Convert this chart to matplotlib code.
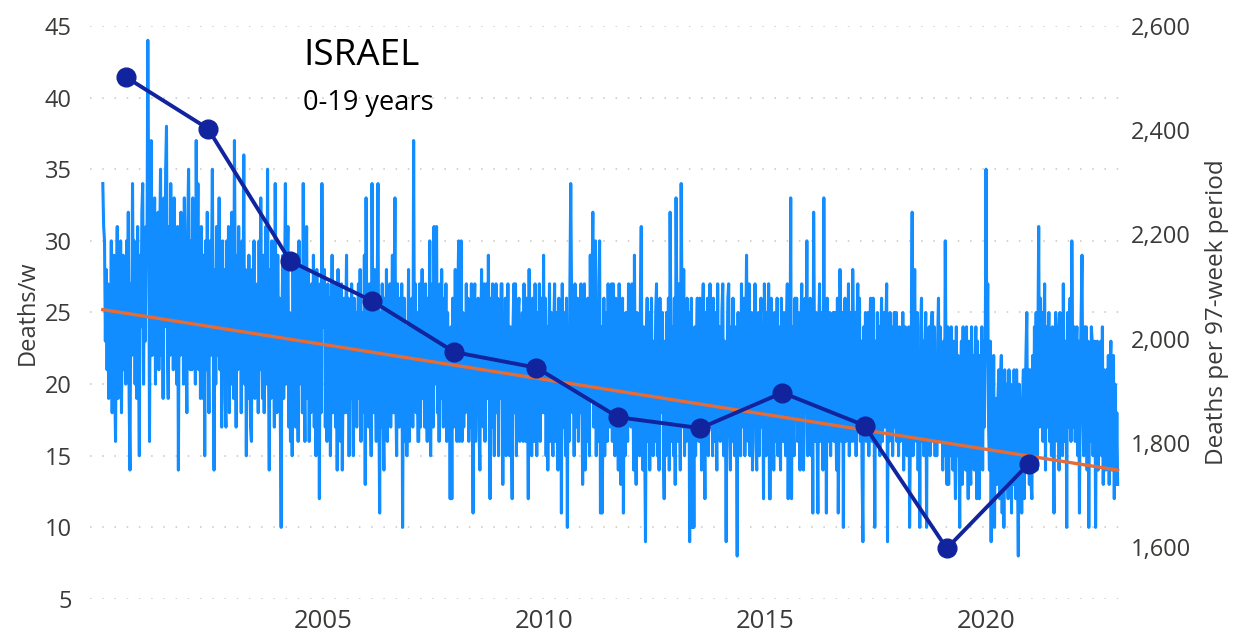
import numpy as np
import matplotlib
matplotlib.use("Agg")
import matplotlib.pyplot as plt
from matplotlib.ticker import FuncFormatter

#----------------------------------------------------------------------
# weekly deaths, age 0-19 (52 values per year)
#----------------------------------------------------------------------
w2000 = [34,31,30,23,28,21,27,19,26,22,30,18,25, 29,20,16,26,31,19,28,22,30,18,25,29,21,
         27,20,30,23,32,19,14,27,22,34,24,30,20, 28,19,31,22,15,29,24,32,34,20,30,23,31]
w2001 = [29,44,33,16,30,37,22,31,24,33,20,30,25, 32,21,30,35,22,28,19,33,24,35,38,23,19,
         31,22,34,25,30,21,33,24,29,20,31,14,28, 22,32,24,30,20,33,26,22,18,31,35,27,21]
w2002 = [30,21,33,24,28,20,37,26,34,21,29,19,31, 25,19,29,15,30,21,32,23,18,30,22,28,35,
         24,14,28,20,31,22,26,33,21,29,17,30,22, 28,19,17,30,23,31,18,27,20,32,24,19,37]
w2003 = [26,17,29,21,31,22,27,18,30,23,36,20,28, 15,27,19,29,23,17,16,28,21,30,19,26,22,
         27,18,30,21,33,23,19,29,18,26,31,20,35, 22,14,28,19,30,21,26,17,34,24,18,29,21]
w2004 = [26,18,10,25,29,19,27,34,20,28,31,17,25, 16,24,15,28,19,26,17,29,21,16,30,20,25,
         28,18,34,22,16,27,31,19,28,16,25,18,27, 20,29,17,26,15,28,21,25,12,27,18,34,24]
w2005 = [24,28,17,25,16,27,19,26,15,23,29,18,24, 27,17,25,14,28,19,24,16,27,14,21,26,18,
         24,29,18,26,15,25,19,27,20,15,26,18,25, 17,24,27,19,28,16,25,18,21,29,13,33,22]
w2006 = [25,17,27,19,15,34,22,18,28,20,16,26,34, 19,11,25,17,27,18,14,26,20,28,16,24,19,
         27,17,23,29,18,25,33,19,15,27,20,17,26, 18,27,10,23,26,16,24,15,20,28,16,25,21]
w2007 = [26,17,37,20,27,18,25,16,16,27,17,23,28, 19,26,17,27,20,16,26,21,30,15,23,27,17,
         31,20,26,31,18,25,16,27,19,28,21,17,26, 20,27,16,25,19,22,12,24,12,26,17,23,28]
w2008 = [23,16,26,30,16,24,30,16,25,17,24,18,27, 19,26,16,24,17,27,19,11,25,27,16,23,18,
         26,17,14,23,28,21,17,27,16,24,27,19,29, 21,12,26,17,27,19,15,24,27,18,26,15,24]
w2009 = [19,27,27,13,24,17,26,15,22,27,18,15,24, 17,12,24,27,18,27,15,23,25,26,16,24,18,
         25,16,27,19,16,26,21,12,28,18,25,15,26, 19,16,27,21,15,25,18,27,16,24,26,18,29]
w2010 = [18,26,15,24,14,23,27,16,25,18,15,24,27, 16,25,19,14,26,18,24,11,27,17,25,19,15,
         26,10,24,16,27,34,26,18,25,15,27,20,17, 26,16,25,18,27,20,13,23,27,14,24,16,26]
w2011 = [21,15,29,19,26,32,17,24,30,15,23,16,27, 30,11,24,11,18,26,15,25,19,16,27,20,17,
         25,27,16,27,20,15,26,18,23,14,27,16,13, 24,26,11,22,15,25,19,16,27,20,26,17,27]
w2012 = [23,14,29,18,13,25,16,24,15,26,31,18,14, 24,16,9,23,26,16,25,14,22,26,19,15,23,
         16,25,27,15,23,14,26,18,24,25,16,12,23, 15,25,18,26,14,32,23,16,24,15,26,13,33]
w2013 = [24,16,27,19,14,34,25,17,28,15,24,16,26, 17,25,9,23,26,10,21,10,24,15,23,26,19,
         16,26,22,14,24,27,18,12,25,16,26,15,23, 27,17,24,15,26,16,25,19,14,27,17,24,16]
w2014 = [18,25,27,15,23,20,9,21,26,27,17,14,24, 16,26,19,15,24,18,8,25,16,23,15,27,20,
         17,26,15,23,29,19,16,27,15,23,25,14,24, 17,27,16,14,23,25,15,24,26,17,21,12,27]
w2015 = [23,15,25,17,27,12,12,26,18,24,14,25,19, 16,26,15,24,18,14,26,19,16,25,18,15,24,
         27,12,23,17,33,12,24,17,15,26,19,26,16, 25,17,14,24,27,19,14,17,26,18,30,15,24]
w2016 = [18,26,15,24,11,32,23,16,25,17,11,24,27, 16,25,19,14,33,17,24,11,26,16,23,25,15,
         24,17,25,16,25,19,14,26,11,18,28,24,16, 25,10,23,26,16,24,18,27,15,25,19,16,28]
w2017 = [23,16,25,15,24,27,17,26,16,23,14,9,24, 17,25,16,24,25,15,23,26,17,16,26,20,10,
         23,16,25,18,24,15,23,26,16,19,25,17,24, 27,9,23,16,25,17,24,15,19,25,17,25,16]
w2018 = [22,15,24,16,23,17,25,14,22,24,18,15,22, 24,10,17,23,32,15,22,28,19,16,25,14,22,
         10,24,26,16,23,15,22,25,10,23,16,24,15, 23,25,25,16,24,15,22,15,23,26,16,24,18]
w2019 = [21,14,23,15,30,20,13,24,13,22,15,24,17, 14,23,16,12,24,15,22,17,10,20,23,13,24,
         15,22,14,24,17,12,23,16,13,24,15,22,14, 21,24,12,23,15,12,22,16,24,14,23,17,22]
w2020 = [35,22,27,17,14,23,9,20,13,22,10,19,17, 13,19,21,12,20,22,11,18,10,21,13,20,15,
         12,21,14,20,11,19,13,21,16,12,21,14,8, 20,13,19,11,19,21,12,18,22,25,15,21,13]
w2021 = [21,13,12,22,15,24,16,25,14,23,31,17,26, 18,25,16,23,27,14,24,17,22,25,16,23,15,
         24,17,11,22,25,24,16,23,14,25,17,24,15, 27,18,16,23,10,25,17,24,26,16,30,22,17]
w2022 = [24,16,22,24,15,23,11,21,25,29,18,15,24, 17,24,14,23,10,22,16,24,23,15,21,23,10,
         20,23,14,22,17,23,15,24,13,21,16,14,21, 15,22,13,21,23,14,20,22,12,20,13,18,13]

# deaths per 97-week period (right axis) and where each point sits
period_year = [2000.52, 2002.38, 2004.24, 2006.10, 2007.96, 2009.82,
               2011.67, 2013.53, 2015.39, 2017.25, 2019.11, 2020.97]
period_deaths = [2502, 2403, 2149, 2072, 1974, 1944, 1849, 1828, 1896, 1833, 1597, 1760]

# linear trend of weekly deaths, first and last week
trend_start = 25.2
trend_end = 14.0

years = [2005, 2010, 2015, 2020]

weekly = (w2000 + w2001 + w2002 + w2003 + w2004 + w2005 + w2006 + w2007 + w2008 +
          w2009 + w2010 + w2011 + w2012 + w2013 + w2014 + w2015 + w2016 + w2017 +
          w2018 + w2019 + w2020 + w2021 + w2022)
x = 2000 + np.arange(len(weekly)) / 52.0

plt.rcParams['font.family'] = ['Open Sans', 'DejaVu Sans']
txt = '#3b3a39'

fig = plt.figure(figsize=(12.5, 6.41), dpi=100)
ax = fig.add_axes([0.072, 0.0655, 0.826, 0.894])

ax.plot(x, weekly, color='#118DFF', lw=2.2, zorder=2)
ax.plot([x[0], x[-1]], [trend_start, trend_end], color='#E66C37', lw=2.4, zorder=3)

ax.set_xlim(1999.71, 2023.09)
ax.set_ylim(5, 45)
ax.set_yticks(range(5, 46, 5))
ax.set_xticks(years)
ax.grid(axis='y', color='#c8c6c4', lw=1.1, linestyle=(0, (1, 7)))
ax.set_axisbelow(True)
for s in ax.spines.values():
    s.set_visible(False)
ax.tick_params(axis='y', length=0, pad=13, labelsize=17, labelcolor=txt)
ax.tick_params(axis='x', length=0, pad=7, labelsize=18.5, labelcolor=txt)
ax.set_ylabel("Deaths/w", fontsize=17, color=txt, labelpad=4)

ax2 = ax.twinx()
ax2.plot(period_year, period_deaths, color='#12239E', lw=2.8, marker='o',
         markersize=13.5, zorder=4)
ax2.set_ylim(1500, 2600)
ax2.set_yticks(range(1600, 2601, 200))
ax2.yaxis.set_major_formatter(FuncFormatter(lambda v, p: f"{int(v):,}"))
for s in ax2.spines.values():
    s.set_visible(False)
ax2.tick_params(axis='y', length=0, pad=6, labelsize=17, labelcolor=txt)
ax2.set_ylabel("Deaths per 97-week period", fontsize=17.5, color=txt, labelpad=10)

fig.text(0.2425, 0.912, "ISRAEL", fontsize=26.5, color='black', va='center', ha='left')
fig.text(0.2425, 0.840, "0-19 years", fontsize=19.5, color='black', va='center', ha='left')

fig.savefig("out.png", dpi=100)
